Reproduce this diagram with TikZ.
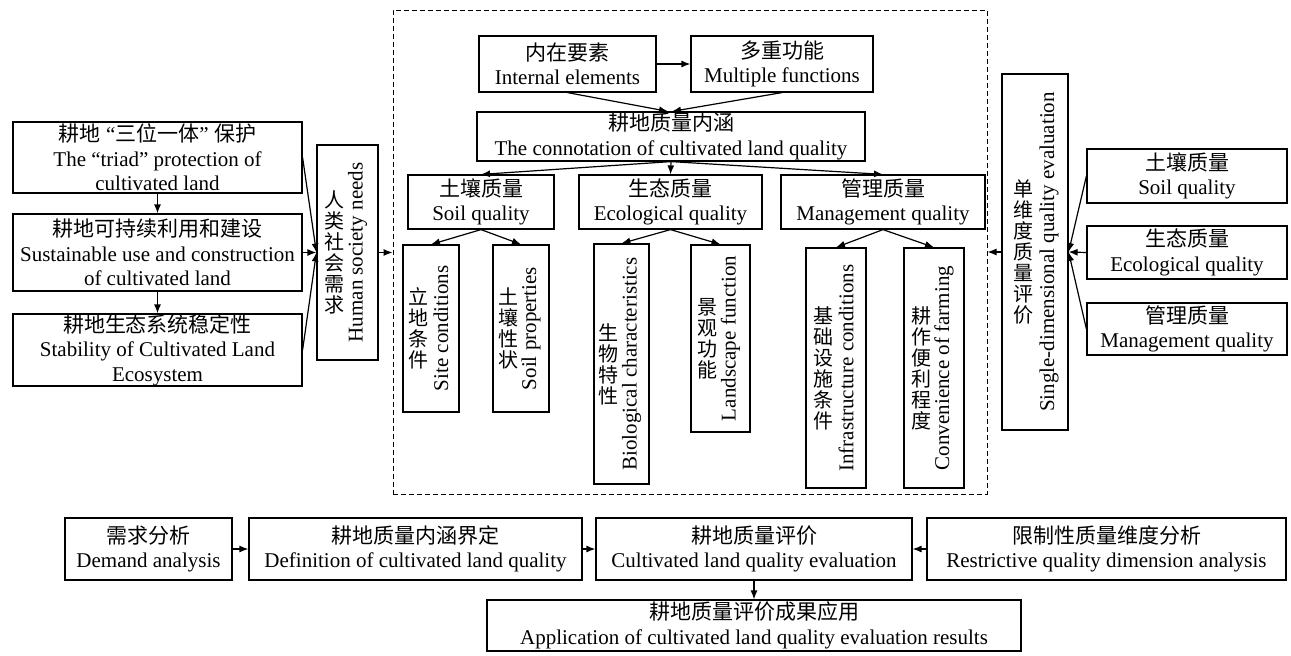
\documentclass[tikz,border=0pt]{standalone}
\usepackage{fontspec}
\setmainfont{Liberation Serif}
\newfontfamily\cjk{Noto Sans CJK SC}
\usetikzlibrary{arrows.meta}
\newcommand\mybox[7][box]{\node[#1, minimum width={(#5-#3)*1pt}, minimum height={(#6-#4)*1pt}] (#2) at ({(#3+#5)/2},{(#4+#6)/2}) {#7};}
\newcommand\vtext[5]{%
  \node[vzh] at ([xshift=#4pt]#1.center) {#2};
  \node[ven] at ([xshift=#5pt]#1.center) {#3};}
\begin{document}
\begin{tikzpicture}[x=1pt,y=-1pt,
  box/.style={draw, line width=1.2pt, inner sep=0pt, align=center, font=\fontsize{21}{24.5}\selectfont},
  dashbox/.style={draw, line width=1pt, dash pattern=on 5pt off 3pt, inner sep=0pt},
  arr/.style={-{Latex[length=9pt,width=7pt]}, line width=1.2pt},
  vzh/.style={align=center, inner sep=0pt, font=\cjk\fontsize{20}{21}\selectfont},
  ven/.style={rotate=90, inner sep=0pt, font=\fontsize{21}{24}\selectfont}]
\useasboundingbox (0,0) rectangle (1291,656);
% left column
\mybox{A}{13}{122}{302}{193}{{\cjk 耕地} “{\cjk 三位一体}” {\cjk 保护}\\The “triad” protection of\\cultivated land}
\mybox{B}{13}{214}{302}{291}{{\cjk 耕地可持续利用和建设}\\Sustainable use and construction\\of cultivated land}
\mybox{C}{13}{314}{302}{386}{{\cjk 耕地生态系统稳定性}\\Stability of Cultivated Land\\Ecosystem}
\mybox{hum}{317}{145}{378}{360}{}
\vtext{hum}{人\\类\\社\\会\\需\\求}{Human society needs}{-13}{10}
% dashed frame
\mybox[dashbox]{dash}{393}{10}{987}{494}{}
% top of the frame
\mybox{ie}{479}{36}{656}{92}{{\cjk 内在要素}\\Internal elements}
\mybox{mf}{691}{36}{873}{92}{{\cjk 多重功能}\\Multiple functions}
\mybox{cn}{477}{112}{865}{161}{{\cjk 耕地质量内涵}\\The connotation of cultivated land quality}
\mybox{sq}{408}{175}{554}{229}{{\cjk 土壤质量}\\Soil quality}
\mybox{eq}{579}{175}{762}{229}{{\cjk 生态质量}\\Ecological quality}
\mybox{mq}{781}{175}{985}{229}{{\cjk 管理质量}\\Management quality}
% vertical boxes
\mybox{v1}{403}{245}{459}{412}{}
\mybox{v2}{493}{245}{549}{412}{}
\mybox{v3}{594}{244}{649}{484}{}
\mybox{v4}{691}{245}{750}{432}{}
\mybox{v5}{806}{248}{866}{488}{}
\mybox{v6}{904}{248}{964}{488}{}
\vtext{v1}{立\\地\\条\\件}{Site conditions}{-13}{10}
\vtext{v2}{土\\壤\\性\\状}{Soil properties}{-13}{10}
\vtext{v3}{生\\物\\特\\性}{Biological characteristics}{-13}{10}
\vtext{v4}{景\\观\\功\\能}{Landscape function}{-13}{10}
\vtext{v5}{基\\础\\设\\施\\条\\件}{Infrastructure conditions}{-13}{10}
\vtext{v6}{耕\\作\\便\\利\\程\\度}{Convenience of farming}{-13}{10}
% right side
\mybox{sd}{1002}{74}{1068}{430}{}
\vtext{sd}{单\\维\\度\\质\\量\\评\\价}{Single-dimensional quality evaluation}{-12}{14}
\mybox{rs}{1087}{149}{1287}{203}{{\cjk 土壤质量}\\Soil quality}
\mybox{re}{1087}{226}{1287}{279}{{\cjk 生态质量}\\Ecological quality}
\mybox{rm}{1087}{303}{1287}{355}{{\cjk 管理质量}\\Management quality}
% bottom row
\mybox{b1}{65}{518}{232}{580}{{\cjk 需求分析}\\Demand analysis}
\mybox{b2}{249}{518}{582}{580}{{\cjk 耕地质量内涵界定}\\Definition of cultivated land quality}
\mybox{b3}{596}{518}{912}{580}{{\cjk 耕地质量评价}\\Cultivated land quality evaluation}
\mybox{b4}{927}{518}{1286}{580}{{\cjk 限制性质量维度分析}\\Restrictive quality dimension analysis}
\mybox{b5}{487}{600}{1021}{651}{{\cjk 耕地质量评价成果应用}\\Application of cultivated land quality evaluation results}
% connectors
\draw[arr] (A.south) -- (B.north);
\draw[arr] (B.south) -- (C.north);
\draw[arr] (A.east) -- (hum.west);
\draw[arr] (B.east) -- (hum.west);
\draw[arr] (C.east) -- (hum.west);
\draw[arr] (hum.east) -- (hum.east -| dash.west);
\draw[arr] (ie.east) -- (mf.west);
\draw[arr] (ie.south) -- ([xshift=-3pt]cn.north);
\draw[arr] (mf.south) -- ([xshift=1pt]cn.north);
\draw[arr] (cn.south) -- (sq.north);
\draw[arr] (cn.south) -- (eq.north);
\draw[arr] (cn.south) -- (mq.north);
\draw[arr] (sq.south) -- (v1.north);
\draw[arr] (sq.south) -- (v2.north);
\draw[arr] (eq.south) -- (v3.north);
\draw[arr] (eq.south) -- (v4.north);
\draw[arr] (mq.south) -- (v5.north);
\draw[arr] (mq.south) -- (v6.north);
\draw[arr] (rs.west) -- (sd.east);
\draw[arr] (re.west) -- (sd.east);
\draw[arr] (rm.west) -- (sd.east);
\draw[arr] (sd.west) -- (sd.west -| dash.east);
\draw[arr] (b1.east) -- (b2.west);
\draw[arr] (b2.east) -- (b3.west);
\draw[arr] (b4.west) -- (b3.east);
\draw[arr] (b3.south) -- (b3.south |- b5.north);
\end{tikzpicture}
\end{document}
